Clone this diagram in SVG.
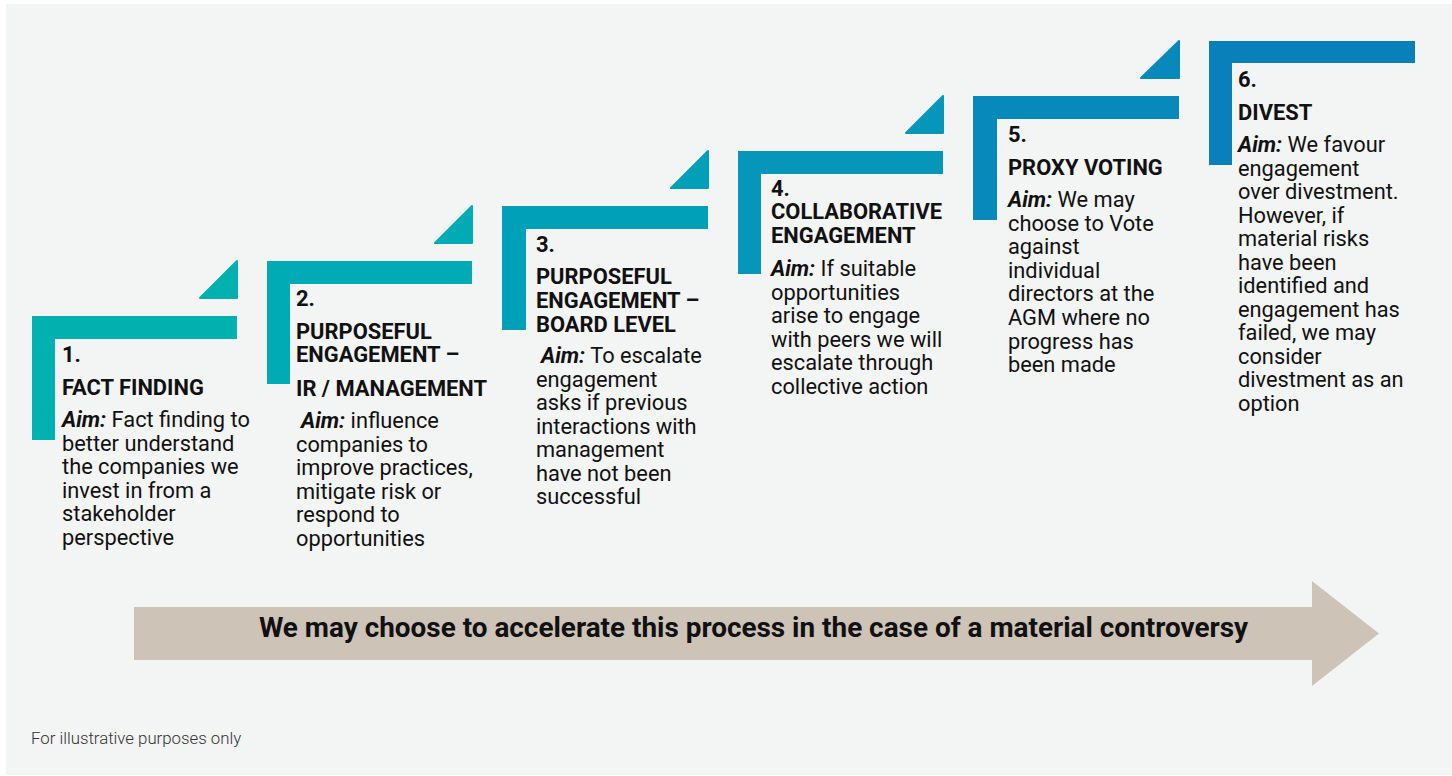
<svg xmlns="http://www.w3.org/2000/svg" width="1452" height="776" viewBox="0 0 1452 776">
<style>
.t{font-family:Roboto,"Liberation Sans",sans-serif;font-size:21.9px;font-weight:700;fill:#111}
.b{font-family:Roboto,"Liberation Sans",sans-serif;font-size:21.8px;font-weight:400;fill:#111}
.aim{font-weight:700;font-style:italic}
.tri{stroke-linejoin:round;stroke-width:2}
</style>
<rect x="0" y="0" width="1452" height="776" fill="#ffffff"/>
<rect x="6" y="4" width="1446" height="771" fill="#f3f4f4"/>

<g id="step1">
<path d="M32,316 H237 V339 H55 V440 H32 Z" fill="#00b1b0"/>
<polygon class="tri" points="200,298 237,298 237,261" fill="#00b1b0" stroke="#00b1b0"/>
<text class="t" x="62" y="362">1.</text>
<text class="t" x="62" y="395">FACT FINDING</text>
<text class="b" x="62" y="427"><tspan class="aim">Aim:</tspan> Fact finding to<tspan x="62" dy="23.6">better understand</tspan><tspan x="62" dy="23.6">the companies we</tspan><tspan x="62" dy="23.6">invest in from a</tspan><tspan x="62" dy="23.6">stakeholder</tspan><tspan x="62" dy="23.6">perspective</tspan></text>
</g>

<g id="step2">
<path d="M267,261 H472 V284 H290 V384 H267 Z" fill="#00abb5"/>
<polygon class="tri" points="435,243 472,243 472,206" fill="#00abb5" stroke="#00abb5"/>
<text class="t" x="296" y="306">2.</text>
<text class="t" x="296" y="339">PURPOSEFUL<tspan x="296" dy="23">ENGAGEMENT –</tspan><tspan x="296" dy="34">IR / MANAGEMENT</tspan></text>
<text class="b" x="301" y="428"><tspan class="aim">Aim:</tspan> influence<tspan x="296" dy="23.5">companies to</tspan><tspan x="296" dy="23.5">improve practices,</tspan><tspan x="296" dy="23.5">mitigate risk or</tspan><tspan x="296" dy="23.5">respond to</tspan><tspan x="296" dy="23.5">opportunities</tspan></text>
</g>

<g id="step3">
<path d="M502,206 H708 V229 H526 V330 H502 Z" fill="#01a0b9"/>
<polygon class="tri" points="671,188 708,188 708,151" fill="#01a0b9" stroke="#01a0b9"/>
<text class="t" x="536" y="252">3.</text>
<text class="t" x="536" y="284">PURPOSEFUL<tspan x="536" dy="23.5">ENGAGEMENT –</tspan><tspan x="536" dy="24.5">BOARD LEVEL</tspan></text>
<text class="b" x="541" y="363"><tspan class="aim">Aim:</tspan> To escalate<tspan x="536" dy="23.5">engagement</tspan><tspan x="536" dy="23.5">asks if previous</tspan><tspan x="536" dy="23.5">interactions with</tspan><tspan x="536" dy="23.5">management</tspan><tspan x="536" dy="23.5">have not been</tspan><tspan x="536" dy="23.5">successful</tspan></text>
</g>

<g id="step4">
<path d="M738,151 H943 V174 H761 V274 H738 Z" fill="#0596ba"/>
<polygon class="tri" points="906,133 943,133 943,96" fill="#0596ba" stroke="#0596ba"/>
<text class="t" x="771" y="196">4.</text>
<text class="t" x="771" y="219">COLLABORATIVE<tspan x="771" dy="23.5">ENGAGEMENT</tspan></text>
<text class="b" x="771" y="276"><tspan class="aim">Aim:</tspan> If suitable<tspan x="771" dy="23.5">opportunities</tspan><tspan x="771" dy="23.5">arise to engage</tspan><tspan x="771" dy="23.5">with peers we will</tspan><tspan x="771" dy="23.5">escalate through</tspan><tspan x="771" dy="23.5">collective action</tspan></text>
</g>

<g id="step5">
<path d="M973,96 H1179 V119 H997 V220 H973 Z" fill="#078abb"/>
<polygon class="tri" points="1141,78 1179,78 1179,41" fill="#078abb" stroke="#078abb"/>
<text class="t" x="1008" y="142">5.</text>
<text class="t" x="1008" y="175">PROXY VOTING</text>
<text class="b" x="1008" y="207"><tspan class="aim">Aim:</tspan> We may<tspan x="1008" dy="23.6">choose to Vote</tspan><tspan x="1008" dy="23.6">against</tspan><tspan x="1008" dy="23.6">individual</tspan><tspan x="1008" dy="23.6">directors at the</tspan><tspan x="1008" dy="23.6">AGM where no</tspan><tspan x="1008" dy="23.6">progress has</tspan><tspan x="1008" dy="23.6">been made</tspan></text>
</g>

<g id="step6">
<path d="M1209,41 H1415 V63 H1232 V165 H1209 Z" fill="#0a80ba"/>
<text class="t" x="1238" y="87">6.</text>
<text class="t" x="1238" y="120">DIVEST</text>
<text class="b" x="1238" y="152"><tspan class="aim">Aim:</tspan> We favour<tspan x="1238" dy="23.5">engagement</tspan><tspan x="1238" dy="23.5">over divestment.</tspan><tspan x="1238" dy="23.5">However, if</tspan><tspan x="1238" dy="23.5">material risks</tspan><tspan x="1238" dy="23.5">have been</tspan><tspan x="1238" dy="23.5">identified and</tspan><tspan x="1238" dy="23.5">engagement has</tspan><tspan x="1238" dy="23.5">failed, we may</tspan><tspan x="1238" dy="23.5">consider</tspan><tspan x="1238" dy="23.5">divestment as an</tspan><tspan x="1238" dy="23.5">option</tspan></text>
</g>

<g id="connectors">
<g id="accelerate-arrow">
<polygon points="134,607 1312,607 1312,581 1379,633.5 1312,686 1312,660 134,660" fill="#cdc3b7"/>
<text x="753.5" y="637" text-anchor="middle" style="font-family:Roboto,'Liberation Sans',sans-serif;font-size:27.9px;font-weight:700;fill:#111">We may choose to accelerate this process in the case of a material controversy</text>
</g>
</g>

<text x="31" y="744" style="font-family:Roboto,'Liberation Sans',sans-serif;font-size:16.8px;font-weight:300;fill:#333">For illustrative purposes only</text>
</svg>
